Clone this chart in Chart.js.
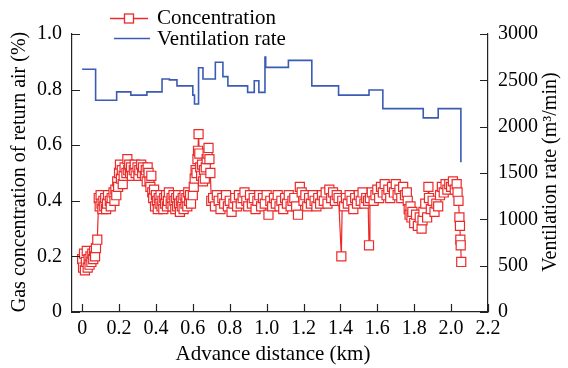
<!DOCTYPE html>
<html>
<head>
<meta charset="utf-8">
<script src="https://cdn.jsdelivr.net/npm/chart.js@4.4.1/dist/chart.umd.min.js"></script>
<style>
  html, body { margin: 0; padding: 0; background: #fff; }
</style>
</head>
<body>
<canvas id="chart" width="568" height="368"></canvas>
<script>
// tick labels
const xTicks = [0, 0.2, 0.4, 0.6, 0.8, 1.0, 1.2, 1.4, 1.6, 1.8, 2.0, 2.2];
const concTicks = [0, 0.2, 0.4, 0.6, 0.8, 1.0];
const ventTicks = [0, 500, 1000, 1500, 2000, 2500, 3000];

// ventilation rate (m3/min), step changes along the advance distance (km)
const ventDist = [0, 0.073, 0.187, 0.264, 0.351, 0.433, 0.473, 0.514, 0.600, 0.609,
  0.631, 0.655, 0.722, 0.763, 0.790, 0.897, 0.933, 0.958, 0.991, 0.995,
  1.118, 1.245, 1.390, 1.555, 1.630, 1.849, 1.930, 2.053];
const ventRate = [2620, 2285, 2375, 2340, 2375, 2515, 2505, 2440, 2340, 2245,
  2635, 2515, 2695, 2540, 2440, 2370, 2495, 2370, 2750, 2640,
  2715, 2440, 2340, 2395, 2195, 2095, 2195, 1615];

// gas concentration of return air (%)
const concDist = [
  0.000, 0.005, 0.010, 0.015, 0.020, 0.025, 0.030, 0.035, 0.040, 0.045,
  0.050, 0.055, 0.060, 0.065, 0.070, 0.075, 0.082,
  0.090, 0.095, 0.100, 0.105, 0.110, 0.115, 0.120, 0.125, 0.130, 0.135,
  0.140, 0.150, 0.155, 0.160, 0.170, 0.175,
  0.180, 0.185, 0.190, 0.195, 0.200, 0.205, 0.210, 0.215, 0.220, 0.225,
  0.230, 0.240, 0.245, 0.250, 0.255, 0.260, 0.265, 0.270, 0.280, 0.285,
  0.290, 0.300, 0.305, 0.310, 0.320, 0.325, 0.330, 0.340, 0.345, 0.350,
  0.355, 0.360, 0.365, 0.370, 0.375, 0.380,
  0.385, 0.390, 0.395, 0.400, 0.405, 0.410, 0.415, 0.420, 0.425, 0.430,
  0.435, 0.440, 0.445, 0.450, 0.455, 0.460, 0.465, 0.470, 0.480, 0.485,
  0.490, 0.495, 0.500, 0.505, 0.510, 0.515, 0.520, 0.525, 0.530, 0.535,
  0.540, 0.545, 0.550, 0.555, 0.560, 0.565, 0.570, 0.575, 0.580, 0.585,
  0.590, 0.600, 0.605, 0.610, 0.615, 0.620, 0.625, 0.628, 0.631, 0.635,
  0.640, 0.645, 0.650, 0.655, 0.660, 0.665, 0.670, 0.675, 0.680, 0.685,
  0.690, 0.695, 0.700,
  0.71, 0.72, 0.73, 0.74, 0.75, 0.76, 0.77, 0.78, 0.79, 0.80,
  0.81, 0.82, 0.83, 0.84, 0.85, 0.86, 0.87, 0.88, 0.89, 0.90,
  0.91, 0.92, 0.93, 0.94, 0.95, 0.96, 0.97, 0.98, 0.99, 1.00,
  1.01, 1.02, 1.03, 1.04, 1.05, 1.06, 1.07, 1.08, 1.09, 1.10,
  1.11, 1.12, 1.13, 1.14, 1.15, 1.16, 1.17, 1.18, 1.19, 1.20,
  1.21, 1.22, 1.23, 1.24, 1.25, 1.26, 1.27, 1.28, 1.29, 1.30,
  1.31, 1.32, 1.33, 1.34, 1.35, 1.36, 1.37, 1.38, 1.39, 1.405, 1.41,
  1.42, 1.43, 1.44, 1.45, 1.46, 1.47, 1.48, 1.49, 1.50, 1.51,
  1.52, 1.53, 1.54, 1.55, 1.555,
  1.56, 1.57, 1.58, 1.59, 1.60, 1.61, 1.62, 1.63, 1.64, 1.65,
  1.66, 1.67, 1.68, 1.69, 1.70, 1.71, 1.72, 1.73, 1.74, 1.75,
  1.760, 1.765, 1.770, 1.775, 1.780, 1.785, 1.790, 1.800, 1.810, 1.820,
  1.830, 1.840, 1.845, 1.850, 1.860, 1.870, 1.877, 1.880, 1.890, 1.900,
  1.910, 1.920, 1.930, 1.940, 1.950, 1.960, 1.970, 1.980, 1.990, 2.000,
  2.010, 2.020, 2.030, 2.035, 2.040, 2.045, 2.048, 2.050, 2.052, 2.055
];
const conc = [
  0.19, 0.16, 0.21, 0.15, 0.18, 0.22, 0.16, 0.19, 0.17, 0.20,
  0.18, 0.21, 0.19, 0.22, 0.20, 0.23, 0.26,
  0.41, 0.38, 0.42, 0.39, 0.37, 0.40, 0.38, 0.41, 0.37, 0.39,
  0.42, 0.40, 0.38, 0.41, 0.43, 0.40,
  0.44, 0.42, 0.47, 0.45, 0.50, 0.53, 0.48, 0.51, 0.46, 0.49,
  0.52, 0.50, 0.55, 0.51, 0.53, 0.50, 0.52, 0.49, 0.51, 0.53,
  0.50, 0.52, 0.49, 0.51, 0.53, 0.50, 0.52, 0.49, 0.51, 0.47,
  0.52, 0.50, 0.47, 0.45, 0.49, 0.43,
  0.41, 0.44, 0.38, 0.42, 0.40, 0.37, 0.41, 0.39, 0.42, 0.38,
  0.40, 0.37, 0.41, 0.39, 0.42, 0.38, 0.40, 0.43, 0.39, 0.41,
  0.38, 0.42, 0.40, 0.37, 0.41, 0.38, 0.42, 0.39, 0.36, 0.40,
  0.38, 0.41, 0.37, 0.42, 0.39, 0.41, 0.38, 0.43, 0.40, 0.42,
  0.39, 0.42, 0.45, 0.48, 0.51, 0.50, 0.55, 0.58, 0.64, 0.57,
  0.52, 0.49, 0.53, 0.47, 0.51, 0.48, 0.52, 0.55, 0.57, 0.59,
  0.55, 0.50, 0.40,
  0.41, 0.38, 0.42, 0.40, 0.37, 0.41, 0.39, 0.42, 0.38, 0.40,
  0.36, 0.39, 0.41, 0.38, 0.42, 0.39, 0.41, 0.43, 0.40, 0.38,
  0.42, 0.39, 0.41, 0.37, 0.40, 0.42, 0.38, 0.41, 0.39, 0.42,
  0.35, 0.40, 0.38, 0.41, 0.39, 0.42, 0.38, 0.40, 0.37, 0.41,
  0.39, 0.42, 0.38, 0.40, 0.41, 0.38, 0.35, 0.45, 0.43, 0.40,
  0.42, 0.38, 0.41, 0.39, 0.42, 0.40, 0.38, 0.41, 0.39, 0.42,
  0.40, 0.43, 0.39, 0.44, 0.41, 0.43, 0.40, 0.42, 0.41, 0.20, 0.40,
  0.38, 0.41, 0.39, 0.42, 0.40, 0.37, 0.41, 0.39, 0.42, 0.40,
  0.43, 0.39, 0.41, 0.40, 0.24,
  0.41, 0.43, 0.40, 0.42, 0.44, 0.41, 0.45, 0.43, 0.46, 0.42,
  0.44, 0.41, 0.45, 0.43, 0.46, 0.42, 0.44, 0.41, 0.45, 0.42,
  0.43, 0.40, 0.37, 0.35, 0.38, 0.34, 0.36, 0.32, 0.35, 0.31,
  0.34, 0.30, 0.33, 0.36, 0.39, 0.34, 0.45, 0.41, 0.37, 0.40,
  0.36, 0.39, 0.38, 0.42, 0.45, 0.43, 0.46, 0.44, 0.46, 0.45,
  0.47, 0.44, 0.46, 0.43, 0.40, 0.34, 0.31, 0.26, 0.24, 0.18
];

const FONT = '"Liberation Serif", "Times New Roman", serif';
const RED = '#ec2a2a';
const BLUE = '#3b5bb4';
const AXIS = '#222';

const setTicks = (list) => (scale) => { scale.ticks = list.map(v => ({ value: v })); };
const fmt1 = (v) => (v === 0 ? '0' : Number(v).toFixed(1));

// inward ticks, axis titles and legend
const decor = {
  id: 'decor',
  afterDraw(chart) {
    const { ctx, chartArea: a, scales } = chart;
    ctx.save();
    ctx.strokeStyle = AXIS;
    ctx.lineWidth = 1.2;
    ctx.beginPath();
    xTicks.forEach(v => {
      const p = Math.round(scales.x.getPixelForValue(v)) + 0.5;
      ctx.moveTo(p, a.bottom); ctx.lineTo(p, a.bottom - 8);
    });
    concTicks.forEach(v => {
      const p = Math.round(scales.y.getPixelForValue(v)) + 0.5;
      ctx.moveTo(a.left, p); ctx.lineTo(a.left + 8, p);
    });
    ventTicks.forEach(v => {
      const p = Math.round(scales.y2.getPixelForValue(v)) + 0.5;
      ctx.moveTo(a.right, p); ctx.lineTo(a.right - 8, p);
    });
    ctx.stroke();

    ctx.fillStyle = '#000';
    ctx.font = '21px ' + FONT;
    ctx.textAlign = 'center';
    ctx.textBaseline = 'middle';
    ctx.fillText('Advance distance (km)', 273, 354);

    ctx.save();
    ctx.translate(20, 172);
    ctx.rotate(-Math.PI / 2);
    ctx.font = '20px ' + FONT;
    ctx.fillText('Gas concentration of return air (%)', 0, 0);
    ctx.restore();

    ctx.save();
    ctx.translate(551, 172);
    ctx.rotate(-Math.PI / 2);
    ctx.font = '20px ' + FONT;
    ctx.fillText('Ventilation rate (m\u00B3/min)', 0, 0);
    ctx.restore();

    // legend
    ctx.lineWidth = 1.3;
    ctx.strokeStyle = RED;
    ctx.beginPath(); ctx.moveTo(110, 18.5); ctx.lineTo(148, 18.5); ctx.stroke();
    ctx.fillStyle = '#fff';
    ctx.fillRect(124.5, 14, 9, 9);
    ctx.strokeRect(124.5, 14, 9, 9);
    ctx.strokeStyle = BLUE;
    ctx.lineWidth = 1.6;
    ctx.beginPath(); ctx.moveTo(114, 38.5); ctx.lineTo(150, 38.5); ctx.stroke();

    ctx.fillStyle = '#000';
    ctx.font = '21px ' + FONT;
    ctx.textAlign = 'left';
    ctx.fillText('Concentration', 157, 18);
    ctx.fillText('Ventilation rate', 157, 39);
    ctx.restore();
  }
};

new Chart(document.getElementById('chart'), {
  type: 'line',
  data: {
    datasets: [
      {
        label: 'Ventilation rate',
        data: ventDist.map((d, i) => ({ x: d, y: ventRate[i] })),
        yAxisID: 'y2',
        stepped: true,
        borderColor: BLUE,
        borderWidth: 1.6,
        pointRadius: 0,
        fill: false
      },
      {
        label: 'Concentration',
        data: concDist.map((d, i) => ({ x: d, y: conc[i] })),
        yAxisID: 'y',
        borderColor: RED,
        borderWidth: 1.2,
        pointStyle: 'rect',
        pointRadius: 6.4,
        pointBorderWidth: 1.2,
        pointBorderColor: RED,
        pointBackgroundColor: '#fff',
        fill: false,
        tension: 0
      }
    ]
  },
  options: {
    responsive: false,
    animation: false,
    layout: { padding: { top: 34, left: 0, right: 0, bottom: 0 } },
    plugins: {
      legend: { display: false },
      tooltip: { enabled: false }
    },
    scales: {
      x: {
        type: 'linear',
        min: -0.055,
        max: 2.2,
        afterBuildTicks: setTicks(xTicks),
        afterFit: (s) => { s.height = 56; },
        grid: { display: false, drawTicks: false },
        border: { display: true, color: AXIS, width: 1.2 },
        ticks: {
          autoSkip: false,
          maxRotation: 0,
          padding: 5,
          color: '#000',
          font: { family: FONT, size: 20 },
          callback: fmt1
        }
      },
      y: {
        position: 'left',
        min: 0,
        max: 1,
        afterBuildTicks: setTicks(concTicks),
        afterFit: (s) => { s.width = 72; },
        grid: { display: false, drawTicks: false },
        border: { display: true, color: AXIS, width: 1.2 },
        ticks: {
          padding: 10,
          color: '#000',
          font: { family: FONT, size: 20 },
          callback: fmt1
        }
      },
      y2: {
        position: 'right',
        min: 0,
        max: 3000,
        afterBuildTicks: setTicks(ventTicks),
        afterFit: (s) => { s.width = 80; },
        grid: { display: false, drawTicks: false },
        border: { display: true, color: AXIS, width: 1.2 },
        ticks: {
          padding: 10,
          color: '#000',
          font: { family: FONT, size: 20 },
          callback: (v) => String(v)
        }
      }
    }
  },
  plugins: [decor]
});
</script>
</body>
</html>
